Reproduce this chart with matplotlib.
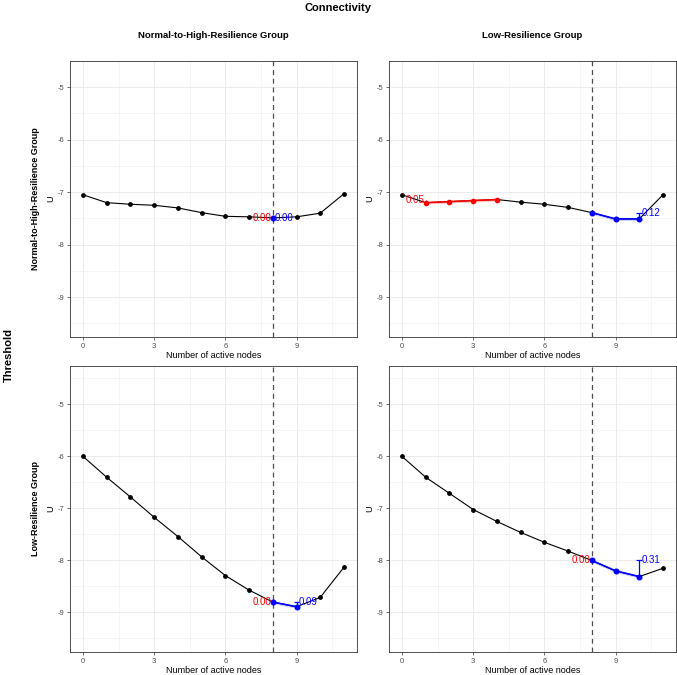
# U against number of active nodes, 2x2 grid (connectivity x threshold)
import numpy as np
import matplotlib
matplotlib.use('Agg')
from matplotlib import pyplot as plt

plt.rcParams['font.family'] = ['Liberation Sans', 'DejaVu Sans']
plt.rcParams['axes.unicode_minus'] = False

nodes = list(range(12))

u_nh_nh = [-7.05, -7.20, -7.23, -7.25, -7.30, -7.39, -7.46, -7.47, -7.49, -7.47, -7.40, -7.03]
u_nh_low = [-7.05, -7.20, -7.18, -7.16, -7.14, -7.19, -7.23, -7.29, -7.39, -7.51, -7.51, -7.05]
u_low_nh = [-6.00, -6.40, -6.78, -7.17, -7.54, -7.93, -8.29, -8.57, -8.80, -8.89, -8.71, -8.13]
u_low_low = [-6.00, -6.40, -6.71, -7.02, -7.25, -7.46, -7.65, -7.82, -8.00, -8.20, -8.31, -8.15]

# highlighted stretches: (start, end) node, size of the change
red_span = [(8, 8), (1, 4), (8, 8), (8, 8)]
red_gap = [0.00, 0.05, 0.00, 0.00]
blue_span = [(8, 8), (8, 10), (8, 9), (8, 10)]
blue_gap = [0.00, 0.12, 0.09, 0.31]

threshold_node = 8
col_titles = ['Normal-to-High-Resilience Group', 'Low-Resilience Group']
row_titles = ['Normal-to-High-Resilience Group', 'Low-Resilience Group']

W, H = 677, 675
fig = plt.figure(figsize=(W / 100, H / 100), dpi=100)


def px_axes(x0, y0, x1, y1):
    return fig.add_axes([x0 / W, 1 - y1 / H, (x1 - x0) / W, (y1 - y0) / H])


boxes = [(70, 61, 357, 337), (389, 61, 676, 337),
         (70, 366, 357, 652), (389, 366, 676, 652)]
ylims = [(-9.76, -4.5), (-9.76, -4.5), (-9.76, -4.26), (-9.76, -4.26)]
series = [u_nh_nh, u_nh_low, u_low_nh, u_low_low]

for i, (box, data) in enumerate(zip(boxes, series)):
    ax = px_axes(*box)
    y = np.array(data)
    x = np.array(nodes)

    ax.set_xlim(-0.55, 11.55)
    ax.set_ylim(*ylims[i])
    ax.set_xticks([0, 3, 6, 9])
    ax.set_xticks([1.5, 4.5, 7.5, 10.5], minor=True)
    ax.set_yticks([-9, -8, -7, -6, -5])
    ax.set_yticks([-9.5, -8.5, -7.5, -6.5, -5.5, -4.5], minor=True)
    ax.grid(which='major', color='#EBEBEB', lw=0.7)
    ax.grid(which='minor', color='#F2F2F2', lw=0.5)
    ax.set_axisbelow(True)
    for s in ax.spines.values():
        s.set_color('#333333')
        s.set_linewidth(0.6)
    ax.tick_params(which='major', length=2.5, width=0.5, color='#333333',
                   labelsize=5.5, labelcolor='#4D4D4D', pad=1.5)
    ax.tick_params(which='minor', length=0)
    ax.set_xlabel('Number of active nodes', fontsize=6.5, labelpad=1)
    ax.set_ylabel('U', fontsize=6.5, labelpad=2)

    ax.axvline(threshold_node, color='#4D4D4D', ls=(0, (4, 3)), lw=0.9, zorder=2)
    ax.plot(x, y, color='black', lw=0.8, zorder=3)
    ax.scatter(x, y, color='black', s=6, zorder=4)

    # red stretch
    r0, r1 = red_span[i]
    m = (x >= r0) & (x <= r1)
    if r1 > r0:
        ax.fill_between(x[m], y[m] - 0.025, y[m] + 0.025, color='red', alpha=0.25, lw=0, zorder=3)
        ax.plot(x[m], y[m], color='red', lw=1.1, zorder=4)
        ax.scatter(x[m], y[m], color='red', s=9, zorder=5)
        ax.vlines(r0, y[r0], y[r0] + red_gap[i], color='red', lw=0.8, zorder=5)
        ax.text(r0 - 0.05, y[r0] + red_gap[i], f'{red_gap[i]:.2f}', color='red',
                fontsize=7, ha='right', va='center', zorder=6)
    else:
        ax.text(r0 - 0.05, y[r0], f'{red_gap[i]:.2f}', color='red',
                fontsize=7, ha='right', va='center', zorder=6)

    # blue stretch
    b0, b1 = blue_span[i]
    m = (x >= b0) & (x <= b1)
    if b1 > b0:
        ax.fill_between(x[m], y[m] - 0.03, y[m] + 0.03, color='blue', alpha=0.2, lw=0, zorder=3)
        ax.plot(x[m], y[m], color='blue', lw=1.1, zorder=4)
    ax.scatter(x[m], y[m], color='blue', s=11, zorder=5)
    top = y[b1] + blue_gap[i]
    if blue_gap[i] > 0:
        ax.vlines(b1, y[b1], top, color='blue', lw=0.9, zorder=5)
        ax.hlines(top, b1 - 0.12, b1 + 0.12, color='blue', lw=0.9, zorder=5)
    ax.text(b1 + 0.08, top, f'{blue_gap[i]:.2f}', color='blue',
            fontsize=7, ha='left', va='center', zorder=6)

fig.text(338 / W, 1 - 8 / H, 'Connectivity', fontsize=8, fontweight='bold',
         ha='center', va='center')
for cx, t in zip([213.5, 532.5], col_titles):
    fig.text(cx / W, 1 - 35 / H, t, fontsize=6.8, fontweight='bold', ha='center', va='center')
for cy, t in zip([199, 509], row_titles):
    fig.text(36 / W, 1 - cy / H, t, fontsize=6.5, fontweight='bold', rotation=90,
             ha='center', va='center')
fig.text(9 / W, 1 - 355 / H, 'Threshold', fontsize=8, fontweight='bold', rotation=90,
         ha='center', va='center')

fig.savefig('out.png', dpi=100)
